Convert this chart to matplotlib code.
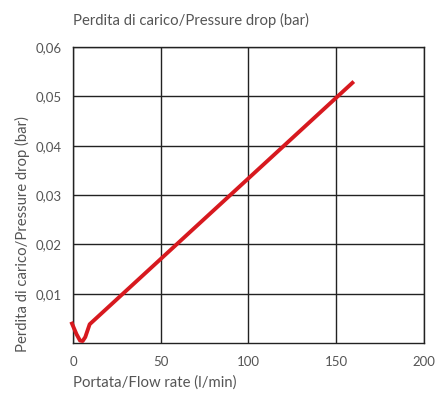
import matplotlib
matplotlib.use('Agg')
import matplotlib.pyplot as plt

# Kennlinie
flow = [-1, 2, 4, 5.5, 7, 9.5, 160]
drop = [0.0043, 0.0018, 0.0005, 0.0004, 0.0012, 0.0038, 0.0530]

x_ticks = [0, 50, 100, 150, 200]
y_ticks = [0.01, 0.02, 0.03, 0.04, 0.05, 0.06]
y_ticklabels = ['0,01', '0,02', '0,03', '0,04', '0,05', '0,06']

txt_color = '#555555'
line_red = '#d7191f'

plt.rcParams['font.family'] = ['Lato', 'DejaVu Sans']

fig = plt.figure(figsize=(4.36, 3.95), dpi=100)
ax = fig.add_axes([0.1674, 0.1316, 0.8051, 0.7494])

ax.plot(flow, drop, color=line_red, linewidth=2.8, solid_capstyle='butt',
        solid_joinstyle='round', clip_on=False, zorder=3)

ax.set_xlim(0, 200)
ax.set_ylim(0, 0.06)
ax.set_xticks(x_ticks)
ax.set_yticks(y_ticks)
ax.set_yticklabels(y_ticklabels)
ax.tick_params(length=0, labelsize=9.5, colors=txt_color, pad=8)
ax.tick_params(axis='x', pad=9)
ax.grid(True, color='#222222', linewidth=1.0)
ax.set_axisbelow(True)
for s in ax.spines.values():
    s.set_color('#222222')
    s.set_linewidth(1.0)

fig.text(73 / 436, 1 - 20 / 395, 'Perdita di carico/Pressure drop (bar)', ha='left', va='center',
         fontsize=10.7, color=txt_color)
fig.text(22 / 436, 1 - 234 / 395, 'Perdita di carico/Pressure drop (bar)', ha='center', va='center',
         rotation=90, fontsize=10.7, color=txt_color)
fig.text(73 / 436, 1 - 383 / 395, 'Portata/Flow rate (l/min)', ha='left', va='center',
         fontsize=10.7, color=txt_color)

fig.savefig('out.png', dpi=100)
